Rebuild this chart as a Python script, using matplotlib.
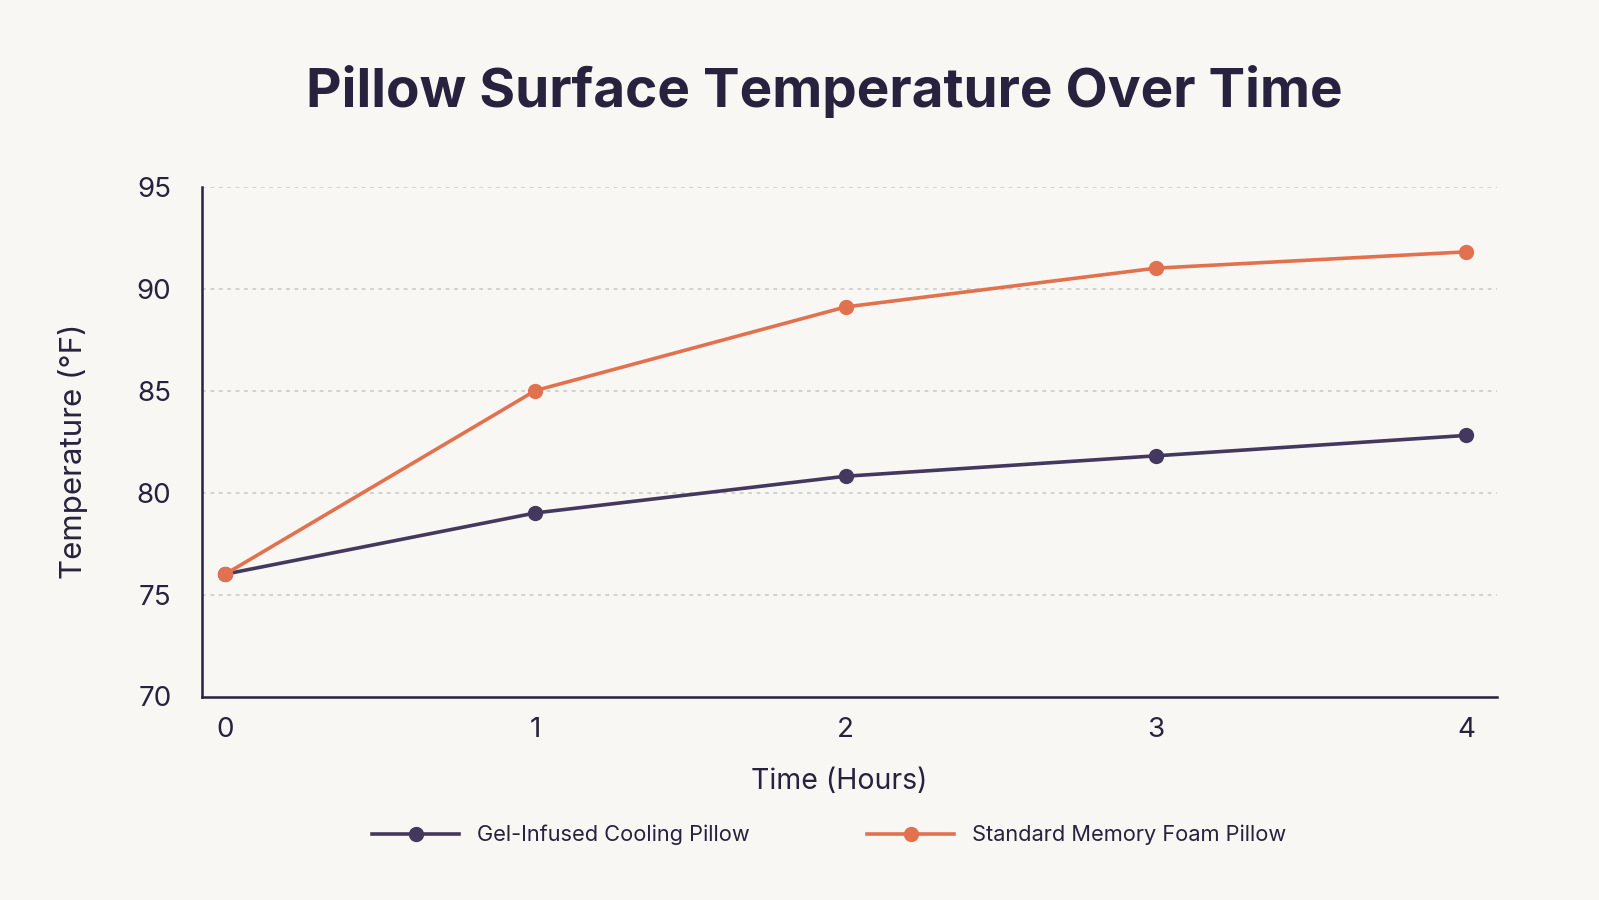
import matplotlib
matplotlib.use("Agg")
import matplotlib.pyplot as plt

# data
hours = [0, 1, 2, 3, 4]
gel_temp = [76.0, 79.0, 80.8, 81.8, 82.8]
foam_temp = [76.0, 85.0, 89.1, 91.0, 91.8]
y_ticks = [70, 75, 80, 85, 90, 95]

bg = "#f9f7f3"
ink = "#27223d"
purple = "#45385f"
orange = "#e2714f"

plt.rcParams['font.family'] = ['Inter', 'DejaVu Sans']

fig = plt.figure(figsize=(15.99, 9), dpi=100, facecolor=bg)
ax = fig.add_axes([202/1599, 1-696.5/900, (1497-202)/1599, (696.5-186.6)/900])
ax.set_facecolor(bg)

ax.plot(hours, gel_temp, color=purple, lw=2.6, marker='o', ms=10,
        label='Gel-Infused Cooling Pillow', zorder=3)
ax.plot(hours, foam_temp, color=orange, lw=2.6, marker='o', ms=10,
        label='Standard Memory Foam Pillow', zorder=4)

ax.set_xlim(-0.075, 4.1)
ax.set_ylim(70, 95)
ax.set_xticks(hours)
ax.set_yticks(y_ticks)
ax.tick_params(length=0, labelsize=20, labelcolor=ink)
ax.tick_params(axis='y', pad=22)
ax.tick_params(axis='x', pad=15)

for t in y_ticks[1:]:
    ax.axhline(t, color='#c9c7c3', lw=1.1, ls=(0, (2.5, 3)), zorder=1)

for s in ['top', 'right']:
    ax.spines[s].set_visible(False)
for s in ['left', 'bottom']:
    ax.spines[s].set_color(ink)
    ax.spines[s].set_linewidth(1.8)

ax.set_xlabel('Time (Hours)', fontsize=20.5, color=ink)
ax.xaxis.set_label_coords(0.492, -0.14)
ax.set_ylabel('Temperature (°F)', fontsize=22.5, color=ink)
ax.yaxis.set_label_coords(-0.088, 0.48)

fig.text(824/1599, 1-92/900, 'Pillow Surface Temperature Over Time',
         ha='center', va='center', fontsize=39.5, fontweight='bold', color=ink)

fig.legend(loc='center', bbox_to_anchor=(829/1599, 1-835/900), ncol=2,
           frameon=False, fontsize=15.7, handlelength=4.0, columnspacing=5.4,
           handletextpad=0.8, labelcolor=ink)

fig.savefig('out.png', dpi=100, facecolor=bg)
